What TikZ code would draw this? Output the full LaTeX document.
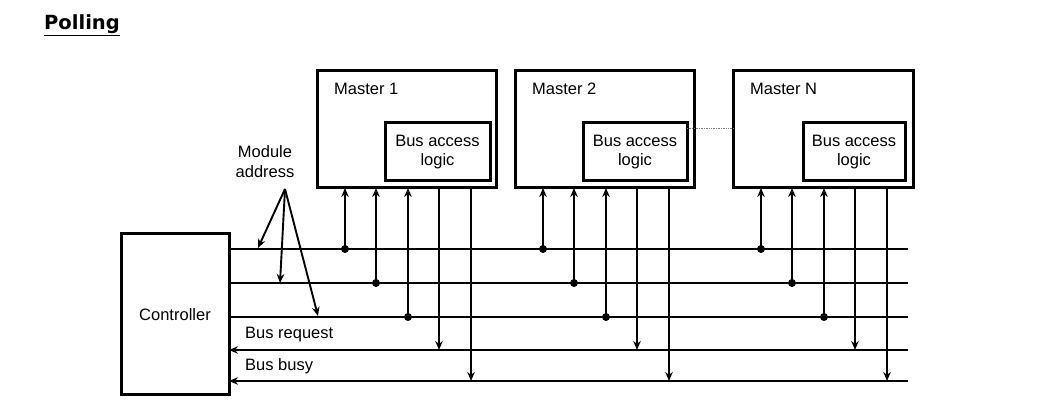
\documentclass[tikz,border=0pt]{standalone}
\usepackage{fontspec}
\setmainfont{Liberation Sans}
\newfontfamily\titlefont{DejaVu Sans}
\usetikzlibrary{arrows.meta}
\begin{document}
\begin{tikzpicture}[x=1pt,y=-1pt,
  outerbox/.style={draw, line width=3pt, inner sep=0pt, outer sep=0pt},
  innerbox/.style={draw, line width=3pt, inner sep=0pt, outer sep=0pt, align=center, font=\fontsize{16.5}{19.5}\selectfont},
  lbl/.style={inner sep=0pt, font=\fontsize{16.5}{18}\selectfont},
  busline/.style={line width=2.4pt},
  tap/.style={line width=1.9pt},
  tip/.style={-{Stealth[length=9pt,width=7.5pt]}},
  dot/.style={circle, fill, inner sep=0pt, minimum size=8pt}
]
\useasboundingbox (0,0) rectangle (1047,411);
% title
\node[anchor=base west, inner sep=0pt, font=\titlefont\bfseries\fontsize{19.5}{22}\selectfont] (title) at (44,30) {\underline{Polling}};
% masters
\node[outerbox, minimum width=179pt, minimum height=117pt] (m1) at (406.5,129.5) {};
\node[outerbox, minimum width=179pt, minimum height=117pt] (m2) at (604.5,129.5) {};
\node[outerbox, minimum width=180pt, minimum height=117pt] (mn) at (823,129.5) {};
\node[innerbox, minimum width=105pt, minimum height=58pt] (b1) at (437.5,152) {Bus access\\logic};
\node[innerbox, minimum width=104pt, minimum height=58pt] (b2) at (635,152) {Bus access\\logic};
\node[innerbox, minimum width=102pt, minimum height=58pt] (bn) at (854,152) {Bus access\\logic};
\node[lbl, anchor=west] (l1) at (334,89) {Master 1};
\node[lbl, anchor=west] (l2) at (532,89) {Master 2};
\node[lbl, anchor=west] (ln) at (750,89) {Master N};
\draw[gray, densely dotted, line width=0.7pt] (b2.east |- 0,128) -- (mn.west |- 0,128);
% controller
\node[outerbox, minimum width=108pt, minimum height=161pt, font=\fontsize{16.5}{18}\selectfont] (ctl) at (175,314.5) {Controller};
% bus line ends
\coordinate (e1) at (908,249);
\coordinate (e2) at (908,283);
\coordinate (e3) at (908,317);
\coordinate (e4) at (908,350);
\coordinate (e5) at (908,381);
\draw[busline] (ctl.east |- e1) -- (e1);
\draw[busline] (ctl.east |- e2) -- (e2);
\draw[busline] (ctl.east |- e3) -- (e3);
\draw[busline, {Stealth[length=9pt,width=7.5pt]}-] (ctl.east |- e4) -- (e4);
\draw[busline, {Stealth[length=9pt,width=7.5pt]}-] (ctl.east |- e5) -- (e5);
% taps
\foreach \m/\x in {m1/317, m2/515, mn/733}{
  \coordinate (\m t1) at (\x+28,249);
  \coordinate (\m t2) at (\x+59,283);
  \coordinate (\m t3) at (\x+91,317);
  \coordinate (\m t4) at (\x+122,350);
  \coordinate (\m t5) at (\x+154,381);
  \node[dot] at (\m t1) {};
  \node[dot] at (\m t2) {};
  \node[dot] at (\m t3) {};
  \draw[tap, tip] (\m t1) -- (\m t1 |- \m.south);
  \draw[tap, tip] (\m t2) -- (\m t2 |- \m.south);
  \draw[tap, tip] (\m t3) -- (\m t3 |- \m.south);
  \draw[tap, tip] (\m t4 |- \m.south) -- (\m t4);
  \draw[tap, tip] (\m t5 |- \m.south) -- (\m t5);
}
% labels
\node[lbl, align=center, font=\fontsize{16.5}{20}\selectfont] (ma) at (265,162) {Module\\address};
\coordinate (mo) at (285,189);
\coordinate (a1) at (258,248);
\coordinate (a2) at (280,283);
\coordinate (a3) at (318,316);
\draw[tap, tip] (mo) -- (a1);
\draw[tap, tip] (mo) -- (a2);
\draw[tap, tip] (mo) -- (a3);
\node[lbl, anchor=west] (br) at (245,335) {Bus request};
\node[lbl, anchor=west] (bb) at (245,366) {Bus busy};
\end{tikzpicture}
\end{document}
